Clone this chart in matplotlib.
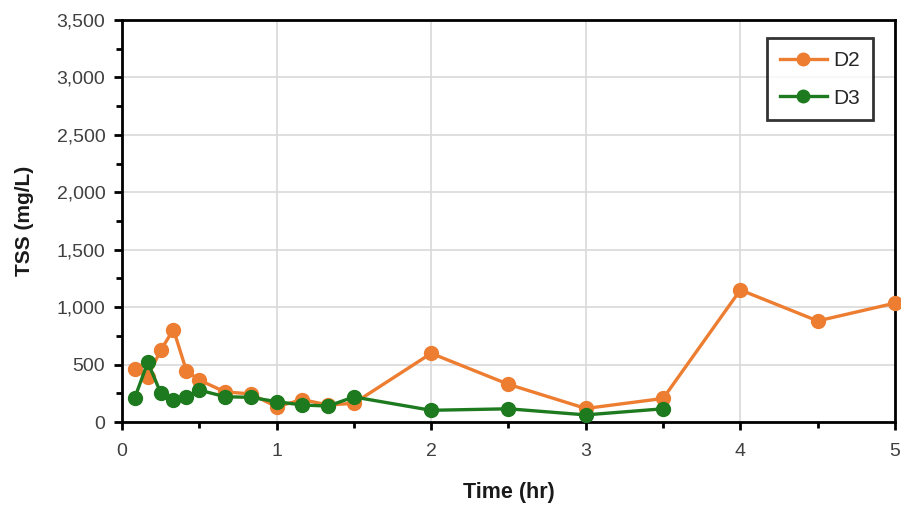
import matplotlib
matplotlib.use("Agg")
import matplotlib.pyplot as plt
from matplotlib.ticker import MultipleLocator, FuncFormatter

d2_time = [0.083, 0.167, 0.25, 0.333, 0.417, 0.5, 0.667, 0.833, 1.0, 1.167, 1.333, 1.5,
           2.0, 2.5, 3.0, 3.5, 4.0, 4.5, 5.0]
d2_tss = [465, 395, 625, 805, 445, 365, 262, 245, 133, 195, 148, 163,
          598, 328, 118, 205, 1150, 880, 1035]

d3_time = [0.083, 0.167, 0.25, 0.333, 0.417, 0.5, 0.667, 0.833, 1.0, 1.167, 1.333, 1.5,
           2.0, 2.5, 3.0, 3.5]
d3_tss = [212, 520, 255, 191, 215, 278, 220, 215, 177, 148, 139, 218,
          102, 115, 62, 115]

plt.rcParams['font.family'] = ['Liberation Sans', 'DejaVu Sans']

fig = plt.figure(figsize=(9.01, 5.09), dpi=100)
ax = fig.add_axes([0.1354, 0.1709, 0.8579, 0.7898])

ax.plot(d2_time, d2_tss, color='#ED7D31', lw=2.4, marker='o', ms=10, label='D2', clip_on=False, zorder=3)
ax.plot(d3_time, d3_tss, color='#1E7A1E', lw=2.4, marker='o', ms=10, label='D3', clip_on=False, zorder=4)

ax.set_xlim(0, 5)
ax.set_ylim(0, 3500)
ax.xaxis.set_major_locator(MultipleLocator(1))
ax.xaxis.set_minor_locator(MultipleLocator(0.5))
ax.yaxis.set_major_locator(MultipleLocator(500))
ax.yaxis.set_minor_locator(MultipleLocator(250))
ax.yaxis.set_major_formatter(FuncFormatter(lambda v, p: f"{int(v):,}"))

ax.grid(True, which='major', color='#d9d9d9', lw=1.2)
ax.set_axisbelow(True)
for s in ax.spines.values():
    s.set_color('black')
    s.set_linewidth(2)

ax.tick_params(axis='both', which='major', direction='out', length=6, width=2, color='black',
               labelsize=14, labelcolor='#404040', pad=6)
ax.tick_params(axis='both', which='minor', direction='out', length=4, width=2, color='black')
ax.tick_params(axis='x', pad=9)

ax.set_xlabel('Time (hr)', fontsize=15.5, fontweight='bold', color='#1a1a1a', labelpad=16)
ax.set_ylabel('TSS (mg/L)', fontsize=15, fontweight='bold', color='#1a1a1a', labelpad=16)

leg = ax.legend(loc='upper right', bbox_to_anchor=(0.985, 0.98), fontsize=15, frameon=True,
                fancybox=False, edgecolor='black', handlelength=2.3, borderpad=0.6,
                labelspacing=0.9, handletextpad=0.3, markerscale=0.9)
leg.get_frame().set_linewidth(2)
for t in leg.get_texts():
    t.set_color('#262626')

fig.savefig('out.png', dpi=100)
